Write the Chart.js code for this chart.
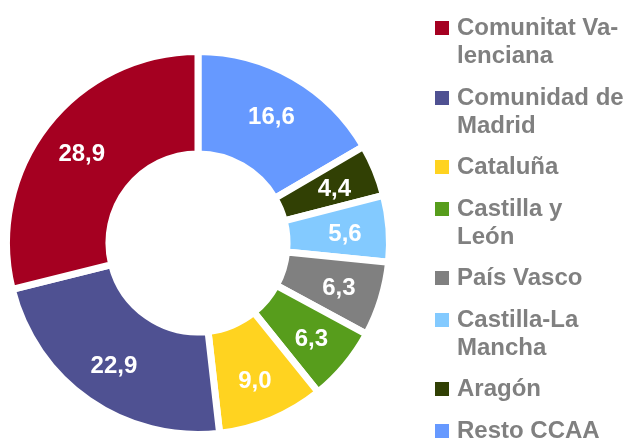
<!DOCTYPE html>
<html>
<head>
<meta charset="utf-8">
<script src="https://cdn.jsdelivr.net/npm/chart.js@4"></script>
<style>
  html, body { margin: 0; padding: 0; background: #fff; }
  #wrap { position: relative; width: 624px; height: 441px; }
  #legend {
    position: absolute; left: 435px; top: 13px; margin: 0; padding: 0; list-style: none;
    font-family: "Liberation Sans", Arial, sans-serif; font-weight: bold; font-size: 24px;
    line-height: 28px; color: #808080;
  }
  #legend li { position: relative; padding-left: 22px; margin-bottom: 13.5px; white-space: pre; }
  #legend li span.box { position: absolute; left: 0; top: 8px; width: 14px; height: 14px; }
</style>
</head>
<body>
<div id="wrap">
  <canvas id="myChart" width="624" height="441"></canvas>
  <ul id="legend"></ul>
</div>
<script>
var categories = ['Comunitat Valenciana', 'Comunidad de Madrid', 'Cataluña', 'Castilla y León',
    'País Vasco', 'Castilla-La Mancha', 'Aragón', 'Resto CCAA'];
var legendLines = [['Comunitat Va-', 'lenciana'], ['Comunidad de', 'Madrid'], ['Cataluña'],
    ['Castilla y', 'León'], ['País Vasco'], ['Castilla-La', 'Mancha'], ['Aragón'], ['Resto CCAA']];
var values = [28.9, 22.9, 9.0, 6.3, 6.3, 5.6, 4.4, 16.6];
var colors = ['#a50021', '#4f5192', '#ffd320', '#579d1c', '#808080', '#83caff', '#314004', '#6699ff'];

// the slices run counter-clockwise in the legend order, so feed them reversed
var labelsRev = categories.slice().reverse();
var valuesRev = values.slice().reverse();
var colorsRev = colors.slice().reverse();

var sliceLabels = {
    id: 'sliceLabels',
    afterDatasetsDraw: function(chart) {
        var ctx = chart.ctx;
        var meta = chart.getDatasetMeta(0);
        ctx.save();
        ctx.fillStyle = '#ffffff';
        ctx.font = 'bold 24px "Liberation Sans", Arial, sans-serif';
        ctx.textAlign = 'center';
        ctx.textBaseline = 'middle';
        meta.data.forEach(function(arc, i) {
            var p = arc.getProps(['x', 'y', 'startAngle', 'endAngle', 'innerRadius', 'outerRadius'], true);
            var mid = (p.startAngle + p.endAngle) / 2;
            var r = p.innerRadius + 0.57 * (p.outerRadius - p.innerRadius);
            var txt = valuesRev[i].toFixed(1).replace('.', ',');
            ctx.fillText(txt, p.x + Math.cos(mid) * r, p.y + Math.sin(mid) * r + 2);
        });
        ctx.restore();
    }
};

var myChart = new Chart('myChart', {
    type: 'doughnut',
    data: {
        labels: labelsRev,
        datasets: [{
            data: valuesRev,
            backgroundColor: colorsRev,
            borderColor: '#ffffff',
            borderWidth: 7,
            hoverOffset: 0
        }]
    },
    options: {
        responsive: false,
        animation: false,
        cutout: '46.5%',
        layout: {
            padding: { left: 3, top: 48, right: 231, bottom: 3 }
        },
        plugins: {
            legend: { display: false },
            tooltip: { enabled: false }
        }
    },
    plugins: [sliceLabels]
});

var legend = document.getElementById('legend');
categories.forEach(function(name, i) {
    var li = document.createElement('li');
    li.title = name;
    var box = document.createElement('span');
    box.className = 'box';
    box.style.background = colors[i];
    li.appendChild(box);
    li.appendChild(document.createTextNode(legendLines[i].join('\n')));
    legend.appendChild(li);
});
</script>
</body>
</html>
